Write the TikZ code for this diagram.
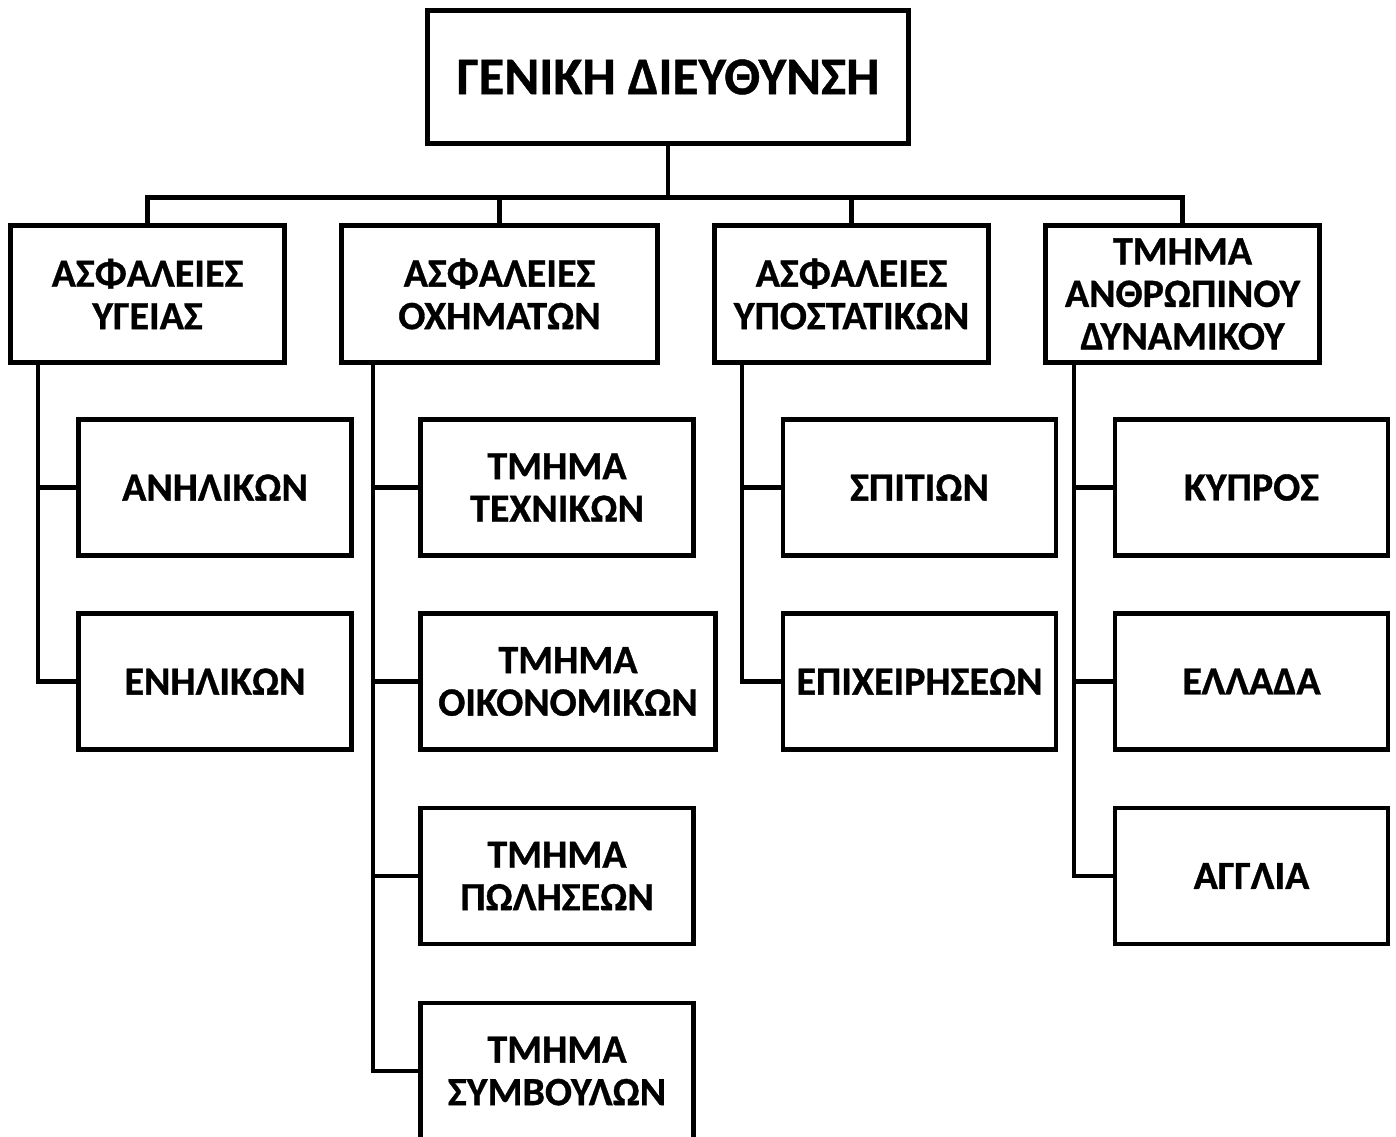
\documentclass[tikz,border=0pt]{standalone}
\usepackage{fontspec}
\setmainfont{Carlito}[BoldFeatures={FakeBold=0.8}]
\begin{document}
\begin{tikzpicture}[x=1pt,y=-1pt,
  every node/.style={inner sep=0pt, outer sep=0pt},
  box/.style={draw, line width=4.8pt, align=center,
    font=\fontsize{40}{42.5}\selectfont\bfseries},
  headbox/.style={box, minimum width=481pt, minimum height=133pt,
    font=\fontsize{53}{60}\selectfont\bfseries},
  deptbox/.style={box, minimum width=274pt, minimum height=137pt},
  unitbox/.style={box, minimum width=273pt, minimum height=136pt},
  conn/.style={line width=4.8pt}]
\useasboundingbox (0,0) rectangle (1396,1136);

% head office
\node[headbox] (top) at (668,77) {ΓΕΝΙΚΗ ΔΙΕΥΘΥΝΣΗ};

% departments
\node[deptbox] (A) at (147.5,294) {ΑΣΦΑΛΕΙΕΣ\\ΥΓΕΙΑΣ};
\node[deptbox, minimum width=316pt] (B) at (499.5,294) {ΑΣΦΑΛΕΙΕΣ\\ΟΧΗΜΑΤΩΝ};
\node[deptbox] (C) at (851.5,294) {ΑΣΦΑΛΕΙΕΣ\\ΥΠΟΣΤΑΤΙΚΩΝ};
\node[deptbox] (D) at (1182.5,294) {ΤΜΗΜΑ\\ΑΝΘΡΩΠΙΝΟΥ\\ΔΥΝΑΜΙΚΟΥ};

% units
\node[unitbox] (a1) at (215,487.5) {ΑΝΗΛΙΚΩΝ};
\node[unitbox] (a2) at (215,681.5) {ΕΝΗΛΙΚΩΝ};

\node[unitbox] (b1) at (557,487.5) {ΤΜΗΜΑ\\ΤΕΧΝΙΚΩΝ};
\node[unitbox, minimum width=295pt] (b2) at (568,681.5) {ΤΜΗΜΑ\\ΟΙΚΟΝΟΜΙΚΩΝ};
\node[unitbox] (b3) at (557,876) {ΤΜΗΜΑ\\ΠΩΛΗΣΕΩΝ};
\node[unitbox] (b4) at (557,1071) {ΤΜΗΜΑ\\ΣΥΜΒΟΥΛΩΝ};

\node[unitbox] (c1) at (919.5,487.5) {ΣΠΙΤΙΩΝ};
\node[unitbox] (c2) at (919.5,681.5) {ΕΠΙΧΕΙΡΗΣΕΩΝ};

\node[unitbox] (d1) at (1251.5,487.5) {ΚΥΠΡΟΣ};
\node[unitbox] (d2) at (1251.5,681.5) {ΕΛΛΑΔΑ};
\node[unitbox] (d3) at (1251.5,876) {ΑΓΓΛΙΑ};

% top-level bus
\coordinate (bus) at (668,197.5);
\draw[conn] (top.south) -- (bus);
\draw[conn] (A.north) |- (bus) -| (D.north);
\draw[conn] (B.north) -- (B.north |- bus);
\draw[conn] (C.north) -- (C.north |- bus);

% trunks of each department
\coordinate (ta) at (38,0);
\coordinate (tb) at (373,0);
\coordinate (tc) at (742,0);
\coordinate (td) at (1074,0);

\draw[conn] (ta |- A.south) |- (a2.west);
\draw[conn] (ta |- a1.west) -- (a1.west);

\draw[conn] (tb |- B.south) |- (b4.west);
\draw[conn] (tb |- b1.west) -- (b1.west);
\draw[conn] (tb |- b2.west) -- (b2.west);
\draw[conn] (tb |- b3.west) -- (b3.west);

\draw[conn] (tc |- C.south) |- (c2.west);
\draw[conn] (tc |- c1.west) -- (c1.west);

\draw[conn] (td |- D.south) |- (d3.west);
\draw[conn] (td |- d1.west) -- (d1.west);
\draw[conn] (td |- d2.west) -- (d2.west);
\end{tikzpicture}
\end{document}
